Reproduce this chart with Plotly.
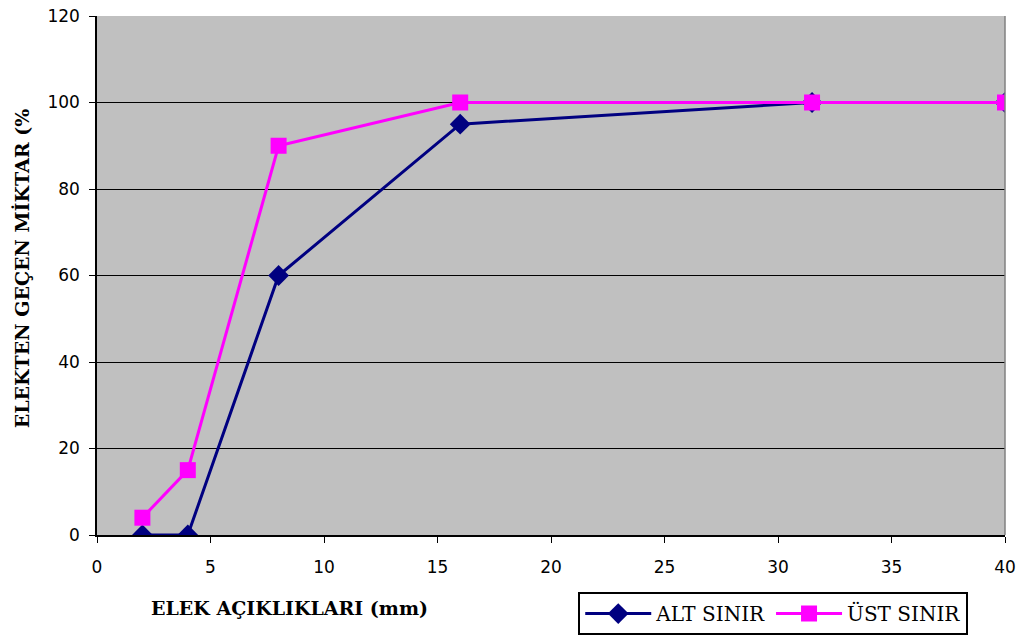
import plotly.graph_objects as go

sieve_mm = [2, 4, 8, 16, 31.5, 40]
alt_sinir = [0, 0, 60, 95, 100, 100]
ust_sinir = [4, 15, 90, 100, 100, 100]

fig = go.Figure()
fig.add_trace(go.Scatter(
    x=sieve_mm, y=alt_sinir, name="ALT SINIR", mode="lines+markers",
    line=dict(color="#000080", width=3),
    marker=dict(symbol="diamond", size=16, color="#000080"),
))
fig.add_trace(go.Scatter(
    x=sieve_mm, y=ust_sinir, name="ÜST SINIR", mode="lines+markers",
    line=dict(color="#FF00FF", width=3),
    marker=dict(symbol="square", size=16, color="#FF00FF"),
))

tick_font = dict(family="DejaVu Sans", size=17, color="#000000")
title_font = dict(family="DejaVu Serif", size=19, color="#000000")
fig.update_layout(
    width=1018, height=638,
    margin=dict(l=97, r=13, t=16, b=103, autoexpand=False),
    paper_bgcolor="white",
    plot_bgcolor="#C0C0C0",
    showlegend=True,
    legend=dict(
        orientation="h", x=0.53, y=-0.11, xanchor="left", yanchor="top",
        bordercolor="#000000", borderwidth=2, bgcolor="white",
        font=dict(family="DejaVu Serif", size=20, color="#000000"),
        itemwidth=66,
    ),
    xaxis=dict(
        range=[0, 40], dtick=5, tick0=0, showgrid=False, zeroline=False,
        showline=True, linecolor="#000000", linewidth=1.5,
        ticks="outside", ticklen=6, tickcolor="#000000",
        tickfont=tick_font, automargin=False, ticklabeloverflow="allow",
        ticklabelstandoff=10,
    ),
    yaxis=dict(
        range=[0, 120], dtick=20, tick0=0, showgrid=True, gridcolor="#000000",
        gridwidth=1, zeroline=False,
        showline=True, linecolor="#000000", linewidth=1.5,
        ticks="outside", ticklen=6, tickcolor="#000000",
        tickfont=tick_font, automargin=False, ticklabeloverflow="allow",
        ticklabelstandoff=6,
    ),
    annotations=[
        dict(text="<b>ELEK AÇIKLIKLARI (mm)</b>", xref="paper", yref="paper",
             x=0.057, y=-0.141, xanchor="left", yanchor="middle", showarrow=False,
             font=title_font),
        dict(text="<b>ELEKTEN GEÇEN MİKTAR (%</b>", xref="paper", yref="paper",
             x=-0.0826, y=0.514, xanchor="center", yanchor="middle", showarrow=False,
             textangle=-90, font=title_font),
    ],
    shapes=[dict(type="line", xref="paper", yref="paper", x0=1, x1=1, y0=0, y1=1,
                 line=dict(color="#808080", width=1.5))],
)

fig.write_html(
    "out.html",
    config={"displayModeBar": False},
    post_script="document.body.style.margin='0';document.body.style.overflow='hidden';",
)
